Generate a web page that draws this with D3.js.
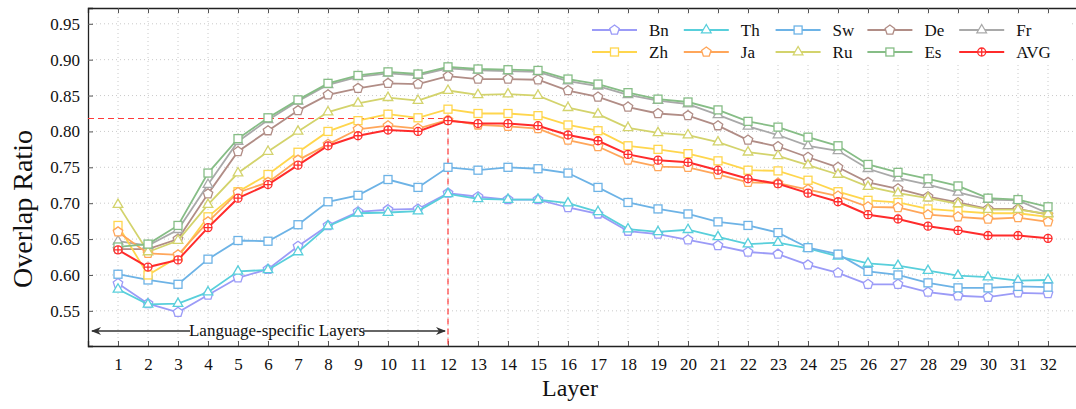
<!DOCTYPE html>
<html>
<head>
<meta charset="utf-8">
<script src="https://cdn.jsdelivr.net/npm/d3@7"></script>
<style>
body { margin: 0; background: #fff; }
text { font-family: "Liberation Serif", "Times New Roman", serif; fill: #111; }
</style>
</head>
<body>
<svg id="graph" width="1076" height="409"></svg>
<script>
const layers = d3.range(1, 33);
const yTicks = [0.55, 0.60, 0.65, 0.70, 0.75, 0.80, 0.85, 0.90, 0.95];

const bn  = [0.588,0.560,0.548,0.572,0.596,0.608,0.640,0.669,0.688,0.691,0.692,0.714,0.709,0.705,0.705,0.694,0.685,0.661,0.657,0.649,0.641,0.632,0.629,0.614,0.603,0.587,0.587,0.576,0.571,0.569,0.575,0.574];
const th  = [0.580,0.559,0.560,0.576,0.605,0.607,0.632,0.668,0.686,0.687,0.689,0.713,0.706,0.705,0.705,0.700,0.688,0.664,0.660,0.663,0.653,0.643,0.645,0.637,0.626,0.616,0.613,0.606,0.599,0.597,0.592,0.593];
const sw  = [0.601,0.593,0.587,0.622,0.648,0.647,0.670,0.702,0.711,0.733,0.722,0.750,0.746,0.750,0.748,0.742,0.722,0.701,0.692,0.685,0.674,0.669,0.659,0.638,0.629,0.605,0.600,0.589,0.582,0.582,0.584,0.583];
const de  = [0.636,0.636,0.650,0.713,0.772,0.801,0.829,0.851,0.860,0.867,0.866,0.877,0.873,0.873,0.872,0.857,0.848,0.834,0.825,0.822,0.808,0.788,0.779,0.764,0.750,0.729,0.720,0.709,0.701,0.692,0.692,0.684];
const fr  = [0.647,0.641,0.663,0.726,0.786,0.816,0.842,0.865,0.876,0.881,0.878,0.888,0.885,0.884,0.883,0.870,0.863,0.851,0.843,0.838,0.823,0.807,0.795,0.780,0.773,0.748,0.735,0.726,0.715,0.705,0.704,0.686];
const zh  = [0.669,0.600,0.625,0.681,0.716,0.740,0.771,0.800,0.815,0.824,0.819,0.831,0.825,0.825,0.822,0.809,0.801,0.780,0.775,0.769,0.759,0.746,0.745,0.732,0.716,0.704,0.701,0.692,0.689,0.686,0.686,0.681];
const ja  = [0.660,0.630,0.628,0.674,0.715,0.729,0.760,0.782,0.803,0.808,0.804,0.816,0.809,0.807,0.804,0.788,0.779,0.760,0.751,0.750,0.740,0.729,0.728,0.719,0.710,0.695,0.694,0.684,0.681,0.678,0.680,0.674];
const ru  = [0.698,0.632,0.648,0.698,0.742,0.772,0.800,0.827,0.839,0.847,0.843,0.857,0.851,0.852,0.850,0.833,0.824,0.805,0.798,0.795,0.785,0.771,0.766,0.753,0.740,0.723,0.714,0.707,0.699,0.691,0.691,0.685];
const es  = [0.639,0.643,0.669,0.742,0.790,0.819,0.844,0.867,0.878,0.883,0.880,0.890,0.887,0.886,0.885,0.873,0.866,0.854,0.845,0.841,0.830,0.814,0.806,0.792,0.780,0.754,0.743,0.734,0.724,0.707,0.705,0.695];
const avg = [0.635,0.611,0.621,0.666,0.707,0.726,0.753,0.780,0.794,0.802,0.800,0.815,0.811,0.811,0.808,0.795,0.787,0.768,0.760,0.757,0.746,0.734,0.727,0.714,0.702,0.684,0.678,0.668,0.662,0.655,0.655,0.651];

const refLayer = 12;
const refValue = 0.818;

const series = [
	{name: "Bn",  values: bn,  color: "#9b9bf7", marker: "pentagon"},
	{name: "Th",  values: th,  color: "#58cfdb", marker: "triangle"},
	{name: "Sw",  values: sw,  color: "#6db3e6", marker: "square"},
	{name: "De",  values: de,  color: "#b18d86", marker: "pentagon"},
	{name: "Fr",  values: fr,  color: "#a9a9a9", marker: "triangle"},
	{name: "Zh",  values: zh,  color: "#ffd64d", marker: "square"},
	{name: "Ja",  values: ja,  color: "#ffa65a", marker: "pentagon"},
	{name: "Ru",  values: ru,  color: "#d3d36c", marker: "triangle"},
	{name: "Es",  values: es,  color: "#86bd86", marker: "square"},
	{name: "AVG", values: avg, color: "#ff2b2b", marker: "oplus"}
];

const width = 1076, height = 409;
const graph = d3.select("#graph").attr("viewBox", [0, 0, width, height]);

const x = d3.scaleLinear().domain([0, 33]).range([88, 1078]);
const y = d3.scaleLinear().domain([0.501, 0.972]).range([346, 8]);

//grid
graph.append("g")
	.selectAll("line")
	.data(layers)
	.join("line")
		.attr("x1", d => x(d)).attr("x2", d => x(d))
		.attr("y1", y.range()[0]).attr("y2", y.range()[1])
		.attr("stroke", "#bdbdbd").attr("stroke-width", 0.8)
		.attr("stroke-dasharray", "1,3");
graph.append("g")
	.selectAll("line")
	.data(yTicks)
	.join("line")
		.attr("x1", x.range()[0]).attr("x2", x.range()[1])
		.attr("y1", d => y(d)).attr("y2", d => y(d))
		.attr("stroke", "#bdbdbd").attr("stroke-width", 0.8)
		.attr("stroke-dasharray", "1,3");

//axes, ticks pointing inward
const xAxis = d3.axisBottom(x).tickValues(layers).tickSize(-5).tickPadding(12).tickFormat(d3.format("d"));
const xTop = d3.axisTop(x).tickValues(layers).tickSize(-5).tickFormat("");
const yAxis = d3.axisLeft(y).tickValues(yTicks).tickSize(-5).tickPadding(8).tickFormat(d3.format(".2f"));

function styleAxis(g){
	g.select(".domain").attr("stroke", "#222").attr("stroke-width", 1.3);
	g.selectAll(".tick line").attr("stroke", "#555");
	g.selectAll(".tick text").style("font-family", "Liberation Serif").style("font-size", "17px").attr("fill", "#111");
}

graph.append("g").attr("transform", "translate(0," + y.range()[0] + ")").call(xAxis).call(styleAxis);
graph.append("g").attr("transform", "translate(0," + y.range()[1] + ")").call(xTop).call(styleAxis);
graph.append("g").attr("transform", "translate(" + x.range()[0] + ",0)").call(yAxis).call(styleAxis);

//axis titles
graph.append("text")
	.attr("x", 570).attr("y", 396)
	.attr("text-anchor", "middle")
	.style("font-size", "24px")
	.text("Layer");
graph.append("text")
	.attr("transform", "translate(32,209) rotate(-90)")
	.attr("text-anchor", "middle")
	.style("font-size", "28px")
	.text("Overlap Ratio");

//reference dashed lines
graph.append("line")
	.attr("x1", x.range()[0]).attr("x2", x(refLayer))
	.attr("y1", y(refValue)).attr("y2", y(refValue))
	.attr("stroke", "#ff3b3b").attr("stroke-width", 1.2).attr("stroke-dasharray", "6,4");
graph.append("line")
	.attr("x1", x(refLayer)).attr("x2", x(refLayer))
	.attr("y1", y(refValue)).attr("y2", y.range()[0])
	.attr("stroke", "#ff3b3b").attr("stroke-width", 1.2).attr("stroke-dasharray", "6,4");

//language-specific arrow
const defs = graph.append("defs");
defs.append("marker")
	.attr("id", "head")
	.attr("viewBox", "0 0 10 10")
	.attr("refX", 9).attr("refY", 5)
	.attr("markerWidth", 10).attr("markerHeight", 10)
	.attr("markerUnits", "userSpaceOnUse")
	.attr("orient", "auto-start-reverse")
	.append("path")
		.attr("d", "M0,1 L10,5 L0,9 L3,5 Z")
		.attr("fill", "#333");

const arrowY = 331;
graph.append("line")
	.attr("x1", x(0) + 4).attr("x2", x(3.4))
	.attr("y1", arrowY).attr("y2", arrowY)
	.attr("stroke", "#333").attr("stroke-width", 1.3)
	.attr("marker-start", "url(#head)");
graph.append("line")
	.attr("x1", x(9.17)).attr("x2", x(refLayer) - 3)
	.attr("y1", arrowY).attr("y2", arrowY)
	.attr("stroke", "#333").attr("stroke-width", 1.3)
	.attr("marker-end", "url(#head)");
graph.append("text")
	.attr("x", x(6.3)).attr("y", arrowY + 5)
	.attr("text-anchor", "middle")
	.style("font-size", "17px")
	.text("Language-specific Layers");

//markers
function pentagon(r){
	const pts = d3.range(5).map(i => {
		const a = -Math.PI / 2 + i * 2 * Math.PI / 5;
		return [r * Math.cos(a), r * Math.sin(a)];
	});
	return "M" + pts.map(p => p.join(",")).join("L") + "Z";
}
function drawMarker(g, type, color){
	if(type == "pentagon"){
		g.append("path").attr("d", pentagon(5)).attr("fill", "#fff").attr("stroke", color).attr("stroke-width", 1.3);
	}else if(type == "triangle"){
		g.append("path").attr("d", d3.symbol(d3.symbolTriangle, 40)()).attr("fill", "#fff").attr("stroke", color).attr("stroke-width", 1.3);
	}else if(type == "square"){
		g.append("rect").attr("x", -4).attr("y", -4).attr("width", 8).attr("height", 8).attr("fill", "#fff").attr("stroke", color).attr("stroke-width", 1.3);
	}else{
		g.append("circle").attr("r", 4).attr("fill", "#fff").attr("stroke", color).attr("stroke-width", 1.3);
		g.append("path").attr("d", "M-4,0H4M0,-4V4").attr("stroke", color).attr("stroke-width", 1.3);
	}
}

const line = d3.line().x((d, i) => x(layers[i])).y(d => y(d));

series.forEach(function(s){
	const g = graph.append("g");
	g.append("path")
		.datum(s.values)
		.attr("fill", "none")
		.attr("stroke", s.color)
		.attr("stroke-width", s.name == "AVG" ? 2 : 1.8)
		.attr("d", line);
	g.selectAll("g.pt")
		.data(s.values)
		.join("g")
			.attr("class", "pt")
			.attr("transform", (d, i) => "translate(" + x(layers[i]) + "," + y(d) + ")")
			.each(function(){ drawMarker(d3.select(this), s.marker, s.color); });
});

//legend
const legend = graph.append("g");
legend.append("rect")
	.attr("x", 575).attr("y", 17).attr("width", 496).attr("height", 46)
	.attr("fill", "#fff");
series.forEach(function(s, i){
	const col = i % 5, row = Math.floor(i / 5);
	const lx = 592 + col * 91.8, ly = 30 + row * 22;
	const item = legend.append("g").attr("transform", "translate(" + lx + "," + ly + ")");
	item.append("line").attr("x1", 0).attr("x2", 45).attr("stroke", s.color).attr("stroke-width", 1.8);
	drawMarker(item.append("g").attr("transform", "translate(22.5,0)"), s.marker, s.color);
	item.append("text")
		.attr("x", 57).attr("y", 6)
		.style("font-size", "17px")
		.text(s.name);
});
</script>
</body>
</html>
